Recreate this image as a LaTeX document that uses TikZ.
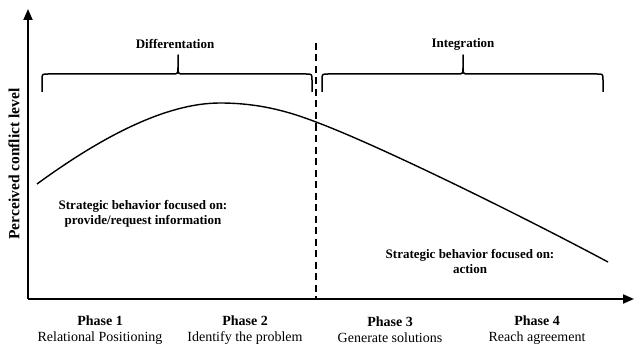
\documentclass[tikz,border=0pt]{standalone}
\usepackage{fontspec}
\setmainfont{Liberation Serif}
\usetikzlibrary{arrows.meta}
\begin{document}
\begin{tikzpicture}[x=1pt,y=-1pt,
  axisline/.style={line width=2pt,-{Triangle[width=9pt,length=11pt]}},
  bracepath/.style={line width=1.5pt,line join=round},
  phaselbl/.style={align=center,inner sep=0pt,font=\fontsize{14}{16}\selectfont},
  grplbl/.style={inner sep=0pt,font=\fontsize{13}{15}\selectfont\bfseries},
  stratlbl/.style={align=center,inner sep=0pt,font=\fontsize{13}{15}\selectfont\bfseries}]
\useasboundingbox (0,0) rectangle (634,350);
% axes
\coordinate (origin) at (28,299);
\coordinate (ytip) at (28,9);
\coordinate (xtip) at (634,299);
\draw[axisline] (origin) -- (ytip);
\draw[axisline] (origin) -- (xtip);
% divider
\coordinate (divtop) at (316,43);
\coordinate (divbot) at (316,299);
\draw[line width=1.5pt,dash pattern=on 7pt off 4.5pt] (divtop) -- (divbot);
% braces
\draw[bracepath] (42,92) -- (42,80) .. controls (42,74) .. (48,74) -- (172,74)
  .. controls (178,74) .. (178,67) -- (178,55) -- (178,67) .. controls (178,74) .. (184,74)
  -- (306,74) .. controls (312,74) .. (312,80) -- (312,92);
\draw[bracepath] (322,92) -- (322,80) .. controls (322,74) .. (328,74) -- (457,74)
  .. controls (463,74) .. (463,67) -- (463,55) -- (463,67) .. controls (463,74) .. (469,74)
  -- (597,74) .. controls (603,74) .. (603,80) -- (603,92);
\node[grplbl] (diff) at (175,44) {Differentation};
\node[grplbl] (integ) at (463,44) {Integration};
% curve
\coordinate (cstart) at (37,184);
\coordinate (cpeak) at (220,103);
\coordinate (cmid) at (316,122);
\coordinate (cend) at (608,262);
\draw[line width=1.4pt] (cstart) .. controls (100,138) and (165,103) .. (cpeak)
  .. controls (260,103) and (290,112) .. (cmid)
  .. controls (380,146) and (520,215) .. (cend);
% texts
\node[stratlbl] (strat1) at (143,214) {Strategic behavior focused on:\\provide/request information};
\node[stratlbl] (strat2) at (470,261) {Strategic behavior focused on:\\action};
\node[rotate=90,inner sep=0pt,font=\fontsize{15.5}{18}\selectfont\bfseries] (ylbl) at (14,164) {Perceived conflict level};
\node[phaselbl] (p1) at (100,330) {\textbf{Phase 1}\\Relational Positioning};
\node[phaselbl] (p2) at (245,330) {\textbf{Phase 2}\\Identify the problem};
\node[phaselbl] (p3) at (390,330) {\textbf{Phase 3}\\Generate solutions};
\node[phaselbl] (p4) at (537,330) {\textbf{Phase 4}\\Reach agreement};
\end{tikzpicture}
\end{document}
